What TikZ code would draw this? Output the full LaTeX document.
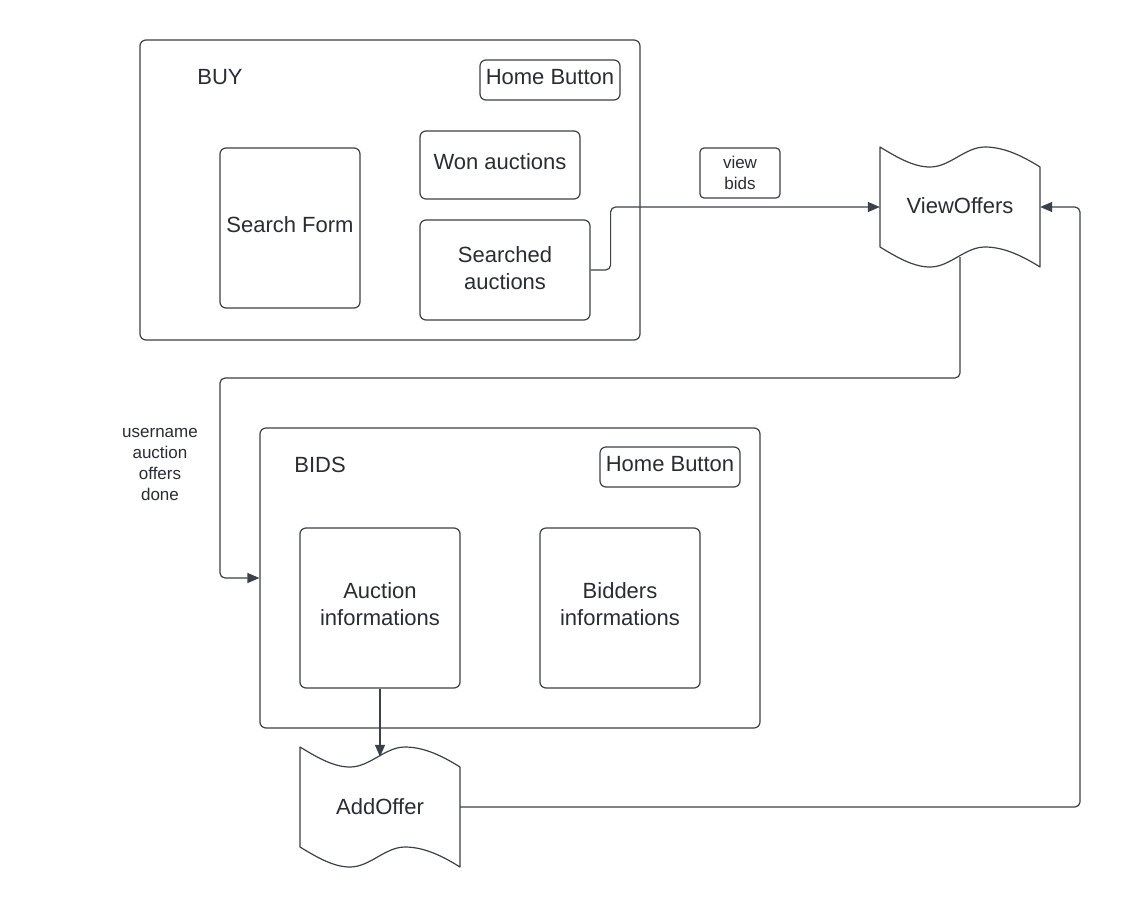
\documentclass[tikz,border=0pt]{standalone}
\usepackage{fontspec}
\setmainfont{Liberation Sans}
\usetikzlibrary{arrows.meta,calc}
\definecolor{lucid_line}{RGB}{58, 65, 74}
\definecolor{lucid_text}{RGB}{40, 44, 51}
\tikzstyle{frame}=[rectangle,rounded corners=6pt,draw=lucid_line,
  line width=1.2pt,inner sep=0pt,minimum width=500pt,minimum height=300pt]
\tikzstyle{box}=[rectangle,rounded corners=6pt,draw=lucid_line,line width=1.2pt,
  text=lucid_text,align=center,inner sep=0pt,text depth=7pt,
  font=\fontsize{22}{27}\selectfont]
\tikzstyle{tape}=[rectangle,inner sep=0pt,minimum width=160pt,minimum height=100pt,
  text=lucid_text,font=\fontsize{22}{27}\selectfont]
\tikzstyle{title}=[text=lucid_text,font=\fontsize{22}{27}\selectfont]
\tikzstyle{small}=[text=lucid_text,align=center,font=\fontsize{17}{21}\selectfont]
\tikzstyle{link}=[draw=lucid_line,line width=1.2pt,rounded corners=5pt,
  -{Triangle[length=12pt,width=10pt]}]
\tikzstyle{none}=[]
% wavy outline round a tape node
\newcommand{\tapeline}[1]{
  \begin{scope}[shift={(#1)}]
    \draw[draw=lucid_line,line width=1.2pt,line join=round]
      (-80,-60) .. controls (-62,-49) and (-46,-40) .. (-30,-40)
      .. controls (-10,-40) and (5,-60) .. (25,-60)
      .. controls (45,-60) and (64,-50) .. (80,-40) -- (80,60)
      .. controls (64,50) and (45,40) .. (25,40)
      .. controls (5,40) and (-10,60) .. (-30,60)
      .. controls (-46,60) and (-62,51) .. (-80,40) -- cycle;
  \end{scope}}
\begin{document}
\begin{tikzpicture}[x=1pt,y=-1pt]
		\useasboundingbox (0,0) rectangle (1121,908);
		\node [style=frame] (0) at (390, 190) {};
		\node [style=title] (1) at (220, 77) {BUY};
		\node [style=box, minimum width=140pt, minimum height=40pt] (2) at (550, 80) {Home Button};
		\node [style=box, minimum width=140pt, minimum height=160pt] (3) at (290, 228) {Search Form};
		\node [style=box, minimum width=160pt, minimum height=68pt] (13) at (500, 165) {Won auctions};
		\node [style=box, minimum width=170pt, minimum height=100pt, text depth=4pt] (4) at (505, 270) {Searched\\auctions};
		\node [style=tape, text depth=2pt] (5) at (960, 207) {ViewOffers};
		\node [style=box, style=small, rounded corners=4pt, text depth=0pt, minimum width=80pt, minimum height=50pt] (14) at (740, 173) {view\\bids};
		\node [style=small] (6) at (160, 465) {username\\auction\\offers\\done};
		\node [style=frame] (7) at (510, 578) {};
		\node [style=title] (8) at (320, 465) {BIDS};
		\node [style=box, minimum width=140pt, minimum height=40pt] (12) at (670, 467) {Home Button};
		\node [style=box, minimum width=160pt, minimum height=160pt] (9) at (380, 608) {Auction\\informations};
		\node [style=box, minimum width=160pt, minimum height=160pt] (10) at (620, 608) {Bidders\\informations};
		\node [style=tape] (11) at (380, 807) {AddOffer};
		\tapeline{5}
		\tapeline{11}
		\draw [style=link] (4.east) -- ++(20, 0) |- (5.west);
		\draw [style=link] (5.south) |- (220, 378) |- (7.west);
		\draw [style=link] (9) to (11);
		\draw [style=link] (11.east) -| (1080, 207) -- (5.east);
\end{tikzpicture}
\end{document}
